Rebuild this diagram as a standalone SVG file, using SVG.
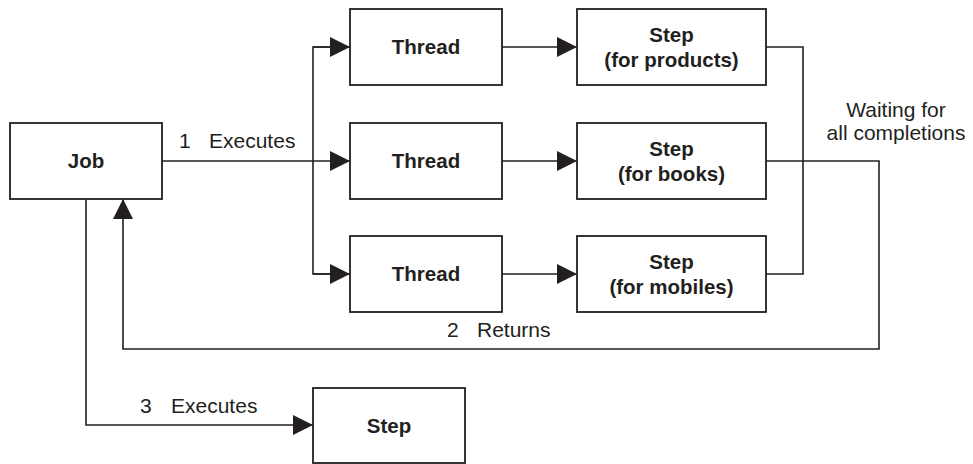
<svg xmlns="http://www.w3.org/2000/svg" width="973" height="464" viewBox="0 0 973 464">
<style>
.box{fill:#fff;stroke:#231f20;stroke-width:1.8}
.lbl{font-family:"Liberation Sans",Arial,sans-serif;font-weight:bold;font-size:20.5px;fill:#231f20;text-anchor:middle}
.txt{font-family:"Liberation Sans",Arial,sans-serif;font-size:21px;fill:#231f20}
.ln{fill:none;stroke:#231f20;stroke-width:1.6}
</style>
<defs>
<marker id="arr" markerUnits="userSpaceOnUse" markerWidth="20" markerHeight="20" viewBox="0 0 18 18" refX="18" refY="9" orient="auto">
<path d="M0,0 L18,9 L0,18 Z" fill="#231f20"/>
</marker>
</defs>
<rect width="973" height="464" fill="#fff"/>
<g id="connectors">
<path class="ln" d="M162,161 H350" marker-end="url(#arr)"/>
<path class="ln" d="M350,47 H313 V274 H350" />
<path class="ln" d="M313,47 H350" marker-end="url(#arr)"/>
<path class="ln" d="M313,274 H350" marker-end="url(#arr)"/>
<path class="ln" d="M502,47 H577" marker-end="url(#arr)"/>
<path class="ln" d="M502,161 H577" marker-end="url(#arr)"/>
<path class="ln" d="M502,274 H577" marker-end="url(#arr)"/>
<path class="ln" d="M766,47 H803 V274 H766"/>
<path class="ln" d="M766,161 H879 V349 H123 V199" marker-end="url(#arr)"/>
<path class="ln" d="M86,199 V425 H313" marker-end="url(#arr)"/>
<text class="txt" x="179" y="148">1</text>
<text class="txt" x="209" y="148">Executes</text>
<text class="txt" x="447" y="337">2</text>
<text class="txt" x="477" y="337">Returns</text>
<text class="txt" x="140" y="413">3</text>
<text class="txt" x="171" y="413">Executes</text>
<text class="txt" x="896" y="117" text-anchor="middle">Waiting for</text>
<text class="txt" x="896" y="140" text-anchor="middle">all completions</text>
</g>
<g id="job">
<rect class="box" x="10" y="123" width="152" height="76"/>
<text class="lbl" x="86" y="168">Job</text>
</g>
<g id="thread1">
<rect class="box" x="350" y="9" width="152" height="76"/>
<text class="lbl" x="426" y="54">Thread</text>
</g>
<g id="thread2">
<rect class="box" x="350" y="123" width="152" height="76"/>
<text class="lbl" x="426" y="168">Thread</text>
</g>
<g id="thread3">
<rect class="box" x="350" y="236" width="152" height="76"/>
<text class="lbl" x="426" y="281">Thread</text>
</g>
<g id="step-products">
<rect class="box" x="577" y="9" width="189" height="76"/>
<text class="lbl" x="671.5" y="42">Step</text>
<text class="lbl" x="671.5" y="67">(for products)</text>
</g>
<g id="step-books">
<rect class="box" x="577" y="123" width="189" height="76"/>
<text class="lbl" x="671.5" y="156">Step</text>
<text class="lbl" x="671.5" y="181">(for books)</text>
</g>
<g id="step-mobiles">
<rect class="box" x="577" y="236" width="189" height="76"/>
<text class="lbl" x="671.5" y="269">Step</text>
<text class="lbl" x="671.5" y="294">(for mobiles)</text>
</g>
<g id="step">
<rect class="box" x="313" y="388" width="152" height="75"/>
<text class="lbl" x="389" y="433">Step</text>
</g>
</svg>
